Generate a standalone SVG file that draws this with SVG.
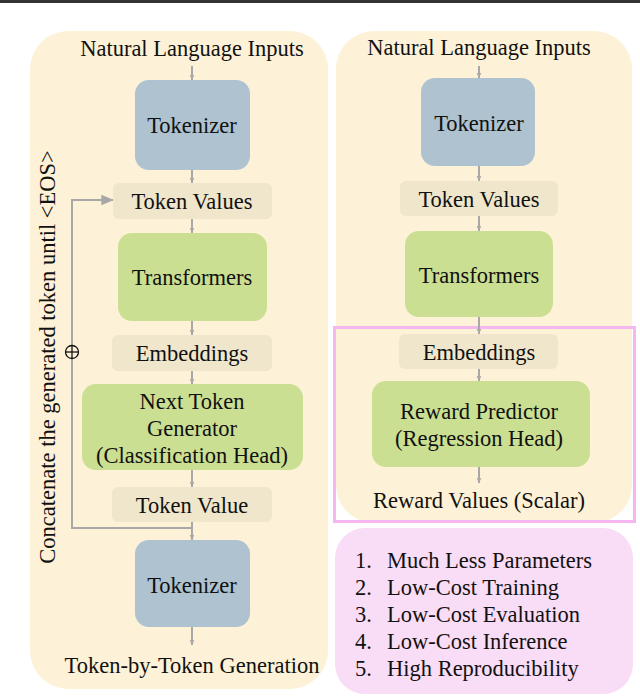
<svg xmlns="http://www.w3.org/2000/svg" width="640" height="697" viewBox="0 0 640 697">
<style>
text{font-family:"Liberation Serif","Times New Roman",serif;fill:#111;text-anchor:middle}
.t{font-size:22.5px}
.panel{fill:#fdf2d7}
.tok{fill:#aec2d0}
.grn{fill:#cbdf92}
.val{fill:#efe6cc}
.con{stroke:#a8a8a8;stroke-width:2;fill:none}
</style>
<defs>
<marker id="ah" viewBox="0 0 10 10" refX="9" refY="5" markerWidth="6" markerHeight="6" markerUnits="userSpaceOnUse" orient="auto">
<path d="M0,1 L10,5 L0,9 z" fill="#a8a8a8"/>
</marker>
<marker id="ahb" viewBox="0 0 10 10" refX="9" refY="5" markerWidth="13" markerHeight="13" markerUnits="userSpaceOnUse" orient="auto">
<path d="M0,1 L10,5 L0,9 z" fill="#a8a8a8"/>
</marker>
</defs>
<rect x="0" y="0" width="640" height="3" fill="#333"/>
<g id="left-panel">
<rect class="panel" x="30" y="31" width="298" height="658" rx="38"/>
</g>
<g id="right-panel">
<rect class="panel" x="336" y="31" width="296" height="492" rx="38"/>
</g>
<g id="reward-frame">
<rect x="334.5" y="327.5" width="300" height="194" fill="none" stroke="#f5b7ef" stroke-width="3"/>
</g>
<g id="list-box">
<rect x="335" y="528" width="298" height="166" rx="30" fill="#f9dcf6"/>
<text class="t" x="355" y="568" style="text-anchor:start">1.</text>
<text class="t" x="387" y="568" style="text-anchor:start">Much Less Parameters</text>
<text class="t" x="355" y="595" style="text-anchor:start">2.</text>
<text class="t" x="387" y="595" style="text-anchor:start">Low-Cost Training</text>
<text class="t" x="355" y="622" style="text-anchor:start">3.</text>
<text class="t" x="387" y="622" style="text-anchor:start">Low-Cost Evaluation</text>
<text class="t" x="355" y="649" style="text-anchor:start">4.</text>
<text class="t" x="387" y="649" style="text-anchor:start">Low-Cost Inference</text>
<text class="t" x="355" y="676" style="text-anchor:start">5.</text>
<text class="t" x="387" y="676" style="text-anchor:start">High Reproducibility</text>
</g>
<g id="connectors">
<line class="con" x1="192" y1="66" x2="192" y2="80" marker-end="url(#ah)"/>
<line class="con" x1="192" y1="170" x2="192" y2="183" marker-end="url(#ah)"/>
<line class="con" x1="192" y1="219" x2="192" y2="233" marker-end="url(#ah)"/>
<line class="con" x1="192" y1="321" x2="192" y2="335" marker-end="url(#ah)"/>
<line class="con" x1="192" y1="371" x2="192" y2="384" marker-end="url(#ah)"/>
<line class="con" x1="192" y1="469" x2="192" y2="487" marker-end="url(#ah)"/>
<line class="con" x1="192" y1="522" x2="192" y2="540" marker-end="url(#ah)"/>
<polyline class="con" points="192,528 72,528 72,200 113,200" marker-end="url(#ahb)"/>
<line class="con" x1="192" y1="627" x2="192" y2="645" marker-end="url(#ah)"/>
<line class="con" x1="479" y1="66" x2="479" y2="78" marker-end="url(#ah)"/>
<line class="con" x1="479" y1="166" x2="479" y2="181" marker-end="url(#ah)"/>
<line class="con" x1="479" y1="216" x2="479" y2="231" marker-end="url(#ah)"/>
<line class="con" x1="479" y1="317" x2="479" y2="334" marker-end="url(#ah)"/>
<line class="con" x1="479" y1="369" x2="479" y2="381" marker-end="url(#ah)"/>
<line class="con" x1="479" y1="467" x2="479" y2="483" marker-end="url(#ah)"/>
</g>
<g id="concat-label">
<circle cx="72" cy="352" r="6.5" fill="#fdf2d7" stroke="#111" stroke-width="1.3"/>
<line x1="65.5" y1="352" x2="78.5" y2="352" stroke="#111" stroke-width="1.3"/>
<line x1="72" y1="345.5" x2="72" y2="358.5" stroke="#111" stroke-width="1.3"/>
<text class="t" transform="translate(55,357) rotate(-90)">Concatenate the generated token until &lt;EOS&gt;</text>
</g>
<g id="l-input"><text class="t" x="192" y="56">Natural Language Inputs</text></g>
<g id="l-tokenizer"><rect class="tok" x="135" y="80" width="115" height="90" rx="14"/><text class="t" x="192" y="133">Tokenizer</text></g>
<g id="l-tokenvalues"><rect class="val" x="113" y="183" width="159" height="36" rx="6"/><text class="t" x="192" y="209">Token Values</text></g>
<g id="l-transformers"><rect class="grn" x="118" y="233" width="149" height="88" rx="14"/><text class="t" x="192" y="285">Transformers</text></g>
<g id="l-embeddings"><rect class="val" x="112" y="335" width="160" height="36" rx="6"/><text class="t" x="192" y="361">Embeddings</text></g>
<g id="l-generator"><rect class="grn" x="82" y="384" width="221" height="86" rx="14"/><text class="t" x="192" y="409">Next Token</text><text class="t" x="192" y="436">Generator</text><text class="t" x="192" y="463">(Classification Head)</text></g>
<g id="l-tokenvalue"><rect class="val" x="112" y="487" width="160" height="35" rx="6"/><text class="t" x="192" y="513">Token Value</text></g>
<g id="l-tokenizer2"><rect class="tok" x="135" y="540" width="115" height="87" rx="14"/><text class="t" x="192" y="593">Tokenizer</text></g>
<g id="l-output"><text class="t" x="192" y="673">Token-by-Token Generation</text></g>
<g id="r-input"><text class="t" x="479" y="55">Natural Language Inputs</text></g>
<g id="r-tokenizer"><rect class="tok" x="421" y="78" width="114" height="88" rx="14"/><text class="t" x="479" y="131">Tokenizer</text></g>
<g id="r-tokenvalues"><rect class="val" x="400" y="181" width="158" height="35" rx="6"/><text class="t" x="479" y="207">Token Values</text></g>
<g id="r-transformers"><rect class="grn" x="405" y="231" width="148" height="86" rx="14"/><text class="t" x="479" y="283">Transformers</text></g>
<g id="r-embeddings"><rect class="val" x="399" y="334" width="159" height="35" rx="6"/><text class="t" x="479" y="360">Embeddings</text></g>
<g id="r-predictor"><rect class="grn" x="372" y="381" width="218" height="86" rx="14"/><text class="t" x="479" y="419">Reward Predictor</text><text class="t" x="479" y="446">(Regression Head)</text></g>
<g id="r-output"><text class="t" x="479" y="508">Reward Values (Scalar)</text></g>
</svg>
